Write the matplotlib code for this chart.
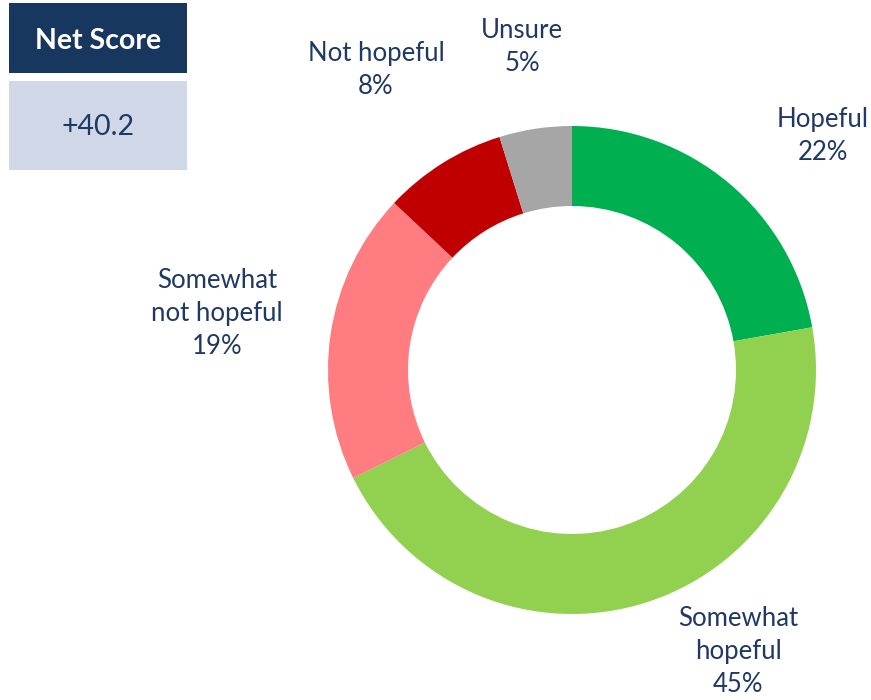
import matplotlib
matplotlib.use("Agg")
import matplotlib.pyplot as plt
from matplotlib.patches import Rectangle

categories = ["Hopeful", "Somewhat\nhopeful", "Somewhat\nnot hopeful", "Not hopeful", "Unsure"]
values = [22.2, 45.5, 19.3, 8.2, 4.8]
pct_labels = ["22%", "45%", "19%", "8%", "5%"]
colors = ["#00B050", "#92D050", "#FF7C80", "#C00000", "#A6A6A6"]
net_score_label = "Net Score"
net_score_value = "+40.2"

# label anchor positions in pixel coordinates (y from top)
label_pos = [(823, 136), (738, 652), (217, 313), (376, 70), (522, 47)]

W, H = 871, 700
fig = plt.figure(figsize=(W / 100, H / 100), dpi=100)
ax = fig.add_axes([0, 0, 1, 1])
ax.set_xlim(0, W)
ax.set_ylim(0, H)
ax.set_aspect("equal")
ax.axis("off")

navy = "#1F3864"
font = "Lato"

cx, cy, r = 572, H - 370, 244
ax.pie(values, colors=colors, startangle=90, counterclock=False,
       center=(cx, cy), radius=r, frame=True,
       wedgeprops=dict(width=80, edgecolor="none", linewidth=0))
ax.set_xlim(0, W)
ax.set_ylim(0, H)
ax.axis("off")

for cat, pct, (x, y) in zip(categories, pct_labels, label_pos):
    ax.text(x, H - y, cat + "\n" + pct, ha="center", va="center",
            fontsize=18.5, color=navy, family=font, linespacing=1.4)

# Net score boxes
ax.add_patch(Rectangle((9, H - 73), 178, 70, facecolor="#17375E", edgecolor="none"))
ax.add_patch(Rectangle((9, H - 170), 178, 89, facecolor="#D0D8E8", edgecolor="none"))
ax.text(98, H - 41, net_score_label, ha="center", va="center", fontsize=20.5,
        fontweight="bold", color="white", family=font)
ax.text(98, H - 127, net_score_value, ha="center", va="center", fontsize=20.5,
        color=navy, family=font)

fig.savefig("out.png", dpi=100)
